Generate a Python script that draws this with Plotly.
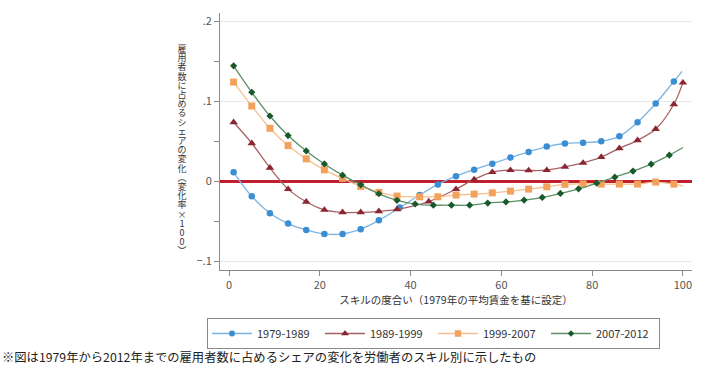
import plotly.graph_objects as go

# ---------------- data ----------------
series_names = ["1979-1989", "1989-1999", "1999-2007", "2007-2012"]

x_1979 = [1, 5, 9, 13, 17, 21, 25, 29, 33, 37.6, 42, 46, 50, 54, 58, 62, 66, 70, 74, 78, 82, 86, 90, 94, 98]
y_1979 = [0.011, -0.019, -0.040, -0.053, -0.061, -0.066, -0.066, -0.060, -0.049, -0.033,
          -0.0174, -0.0041, 0.0062, 0.0143, 0.0218, 0.0295, 0.0365, 0.0432, 0.047, 0.048,
          0.0498, 0.056, 0.0735, 0.097, 0.1245]

x_1989 = [1, 5, 9, 13, 17, 21, 25, 29, 33, 37, 44, 50, 54, 58, 62, 66, 70, 74, 78, 82, 86, 90, 94, 98, 100]
y_1989 = [0.0735, 0.0473, 0.0166, -0.010, -0.0258, -0.036, -0.039, -0.039, -0.0377, -0.0352,
          -0.0255, -0.010, 0.0021, 0.0112, 0.0137, 0.0133, 0.0137, 0.0178, 0.0228, 0.030,
          0.041, 0.051, 0.065, 0.096, 0.123]

x_1999 = [1, 5, 9, 13, 17, 21, 25, 29, 33, 37, 42, 46, 50, 54, 58, 62, 66, 70, 74, 78, 82, 86, 90, 94, 98]
y_1999 = [0.1237, 0.0938, 0.066, 0.0444, 0.0278, 0.0141, 0.0034, -0.0066, -0.0141, -0.0187,
          -0.0196, -0.0196, -0.0174, -0.0162, -0.0146, -0.0125, -0.010, -0.0071, -0.0041, -0.0034,
          -0.0037, -0.0037, -0.0037, -0.0012, -0.0037]

x_2007 = [1, 5, 9, 13, 17, 21, 25, 29, 33, 37, 41, 45, 49, 53, 57, 61, 65, 69, 73, 77, 81, 85, 89, 93, 97]
y_2007 = [0.144, 0.111, 0.0813, 0.0569, 0.0377, 0.0215, 0.0075, -0.0046, -0.0158, -0.024,
          -0.0286, -0.030, -0.030, -0.030, -0.0274, -0.026, -0.0237, -0.0203, -0.0153, -0.0096,
          -0.0025, 0.005, 0.0125, 0.0212, 0.0324]

# end of each fitted curve beyond the last marker (None = curve ends at last marker)
fit_end_x = [99.8, None, 100, 100]
fit_end_y = [0.137, None, -0.006, 0.042]

x_ticks = [0, 20, 40, 60, 80, 100]
y_ticks = [-0.1, 0, 0.1, 0.2]
y_tick_text = ["\u2212.1", "0", ".1", ".2"]
y_minor = [-0.05, 0.05, 0.15]

x_title = "スキルの度合い（1979年の平均賃金を基に設定）"
y_title_chars = ["雇", "用", "者", "数", "に", "占", "め", "る", "シ", "ェ", "ア", "の", "変", "化",
                 "︵", "変", "化", "率", "×", "1", "0", "0", "︶"]
footnote = "※図は1979年から2012年までの雇用者数に占めるシェアの変化を労働者のスキル別に示したもの"

# ---------------- styles ----------------
FONT = "Noto Sans CJK JP, Noto Sans, sans-serif"
marker_colors = ["#3a8ed3", "#8a2631", "#f3a25e", "#17592a"]
line_colors = ["#7db4e2", "#a86266", "#f6c08e", "#5d8f66"]
symbols = ["circle", "triangle-up", "square", "diamond"]
sizes = [6.5, 7.5, 7, 5.5]

xs = [x_1979, x_1989, x_1999, x_2007]
ys = [y_1979, y_1989, y_1999, y_2007]

fig = go.Figure()
for i, name in enumerate(series_names):
    lx = list(xs[i]) + ([fit_end_x[i]] if fit_end_x[i] is not None else [])
    ly = list(ys[i]) + ([fit_end_y[i]] if fit_end_y[i] is not None else [])
    fig.add_trace(go.Scatter(x=lx, y=ly, mode="lines", showlegend=False, legendgroup=name,
                             line=dict(color=line_colors[i], width=1.3, shape="spline", smoothing=1.0),
                             hoverinfo="skip"))
    fig.add_trace(go.Scatter(x=xs[i], y=ys[i], mode="markers", showlegend=False, legendgroup=name,
                             name=name,
                             marker=dict(color=marker_colors[i], symbol=symbols[i], size=sizes[i],
                                         line=dict(width=0))))
    # legend entry (line + marker)
    fig.add_trace(go.Scatter(x=[None], y=[None], mode="lines+markers", name=name, legendgroup=name,
                             line=dict(color=line_colors[i], width=1.3),
                             marker=dict(color=marker_colors[i], symbol=symbols[i], size=sizes[i] - 0.5,
                                         line=dict(width=0))))

# plot-area geometry in pixels (for placing text in paper coords)
W, H = 707, 366
ML, MR, MT, MB = 220, 15, 13, 96
PW, PH = W - ML - MR, H - MT - MB


def px_to_paper_x(px):
    return (px - ML) / PW


def px_to_paper_y(py):
    return (H - MB - py) / PH


annotations = []
# vertical y-axis title: one upright character per row
y0_px, step_px = 48.5, 9.2
for k, ch in enumerate(y_title_chars):
    annotations.append(dict(text=ch, xref="paper", yref="paper",
                            x=px_to_paper_x(181.5), y=px_to_paper_y(y0_px + k * step_px),
                            xanchor="center", yanchor="middle", showarrow=False,
                            borderpad=0, height=9, width=10,
                            font=dict(family=FONT, size=9, color="#333333")))
annotations.append(dict(text=footnote, xref="paper", yref="paper",
                        x=px_to_paper_x(0), y=px_to_paper_y(357),
                        xanchor="left", yanchor="middle", showarrow=False,
                        font=dict(family=FONT, size=12.3, color="#222222")))

fig.update_layout(
    width=W, height=H,
    margin=dict(l=ML, r=MR, t=MT, b=MB, pad=0, autoexpand=False),
    paper_bgcolor="white", plot_bgcolor="white",
    font=dict(family=FONT, size=11, color="#444444"),
    showlegend=True,
    legend=dict(orientation="h", x=px_to_paper_x(207), y=px_to_paper_y(318),
                xanchor="left", yanchor="top",
                bordercolor="#8a8a8a", borderwidth=1,
                font=dict(family=FONT, size=11, color="#333333"),
                entrywidth=58, entrywidthmode="pixels",
                itemwidth=40, tracegroupgap=0),
    annotations=annotations,
    xaxis=dict(range=[-2, 102], tickmode="array", tickvals=x_ticks,
               ticks="outside", ticklen=5, tickcolor="#888888", showgrid=False,
               showline=True, linecolor="#888888", linewidth=1, zeroline=False,
               tickfont=dict(family=FONT, size=11, color="#555555"),
               title=dict(text=x_title, standoff=4,
                          font=dict(family=FONT, size=10.5, color="#333333"))),
    yaxis=dict(range=[-0.111, 0.21], tickmode="array", tickvals=y_ticks, ticktext=y_tick_text,
               ticks="outside", ticklen=5, tickcolor="#888888",
               showgrid=True, gridcolor="#e9e9e9", gridwidth=1,
               minor=dict(tickmode="array", tickvals=y_minor, ticks="outside", ticklen=5,
                          tickcolor="#888888", showgrid=False),
               showline=True, linecolor="#888888", linewidth=1,
               zeroline=True, zerolinecolor="#c01f2e", zerolinewidth=2.5,
               tickfont=dict(family=FONT, size=11, color="#555555")),
)

fig.write_html("out.html", config={"displayModeBar": False},
               post_script="document.body.style.margin='0';document.body.style.padding='0';")
